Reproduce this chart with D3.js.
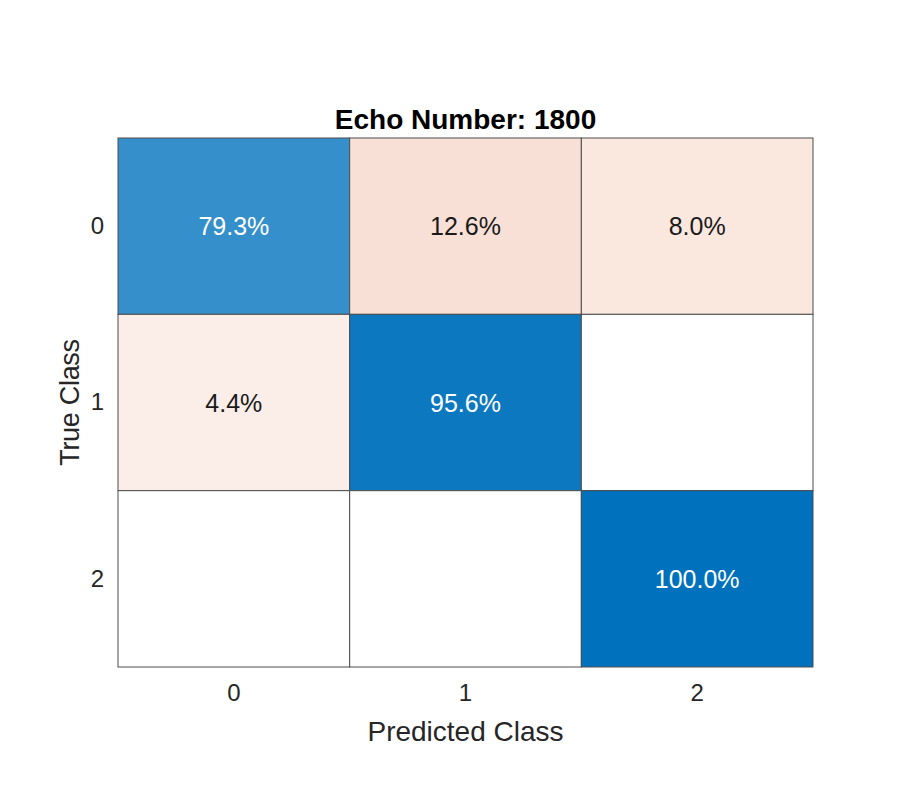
<!DOCTYPE html>
<html><head><meta charset="utf-8">
<script src="https://cdn.jsdelivr.net/npm/d3@7"></script>
<style>body{margin:0;background:#fff}</style>
</head><body>
<svg id="c" width="900" height="800"></svg>
<script>
const trueClasses = ["0","1","2"];
const predClasses = ["0","1","2"];
// row-normalized percentages (rows: true class, cols: predicted class); null = empty cell
const row0 = [79.3, 12.6, 8.0];
const row1 = [4.4, 95.6, null];
const row2 = [null, null, 100.0];
const rows = [row0, row1, row2];
const title = "Echo Number: 1800";

const svg = d3.select("#c");
const font = "'Liberation Sans', Arial, sans-serif";
const L = 118, R = 813, T = 138, B = 667;
const x = d3.scaleBand().domain(predClasses).range([L, R]);
const y = d3.scaleBand().domain(trueClasses).range([T, B]);
const diagColor = v => d3.interpolateRgb("#ffffff", "#0072bd")(v / 100);
const offColor = v => d3.interpolateRgb("#ffffff", "#d95319")(0.5 * Math.sqrt(v / 100));

const cells = [];
rows.forEach((r, i) => r.forEach((v, j) => cells.push({t: trueClasses[i], p: predClasses[j], v, diag: i === j})));

svg.selectAll("rect.cell").data(cells).enter().append("rect")
  .attr("x", d => x(d.p)).attr("y", d => y(d.t))
  .attr("width", x.bandwidth()).attr("height", y.bandwidth())
  .attr("fill", d => d.v == null ? "#ffffff" : (d.diag ? diagColor(d.v) : offColor(d.v)))
  .attr("stroke", "#4d4d4d").attr("stroke-width", 1);

svg.selectAll("text.val").data(cells.filter(d => d.v != null)).enter().append("text")
  .attr("x", d => x(d.p) + x.bandwidth() / 2).attr("y", d => y(d.t) + y.bandwidth() / 2 + 9)
  .attr("text-anchor", "middle")
  .attr("font-family", font).attr("font-size", 25)
  .attr("fill", d => d.diag && d.v > 50 ? "#ffffff" : "#1a1a1a")
  .text(d => d.v.toFixed(1) + "%");

// axes
const xAxis = svg.append("g").attr("transform", `translate(0,${B})`)
  .call(d3.axisBottom(x).tickSize(0).tickPadding(17));
const yAxis = svg.append("g").attr("transform", `translate(${L},0)`)
  .call(d3.axisLeft(y).tickSize(0).tickPadding(14));
[xAxis, yAxis].forEach(a => {
  a.select(".domain").remove();
  a.selectAll("text").attr("font-family", font).attr("font-size", 24).attr("fill", "#262626");
});

svg.append("text").attr("x", (L + R) / 2).attr("y", 129).attr("text-anchor", "middle")
  .attr("font-family", font).attr("font-size", 28).attr("font-weight", "bold").attr("fill", "#000")
  .text(title);
svg.append("text").attr("x", (L + R) / 2).attr("y", 741).attr("text-anchor", "middle")
  .attr("font-family", font).attr("font-size", 28).attr("fill", "#262626")
  .text("Predicted Class");
svg.append("text").attr("transform", `translate(79,${(T + B) / 2}) rotate(-90)`).attr("text-anchor", "middle")
  .attr("font-family", font).attr("font-size", 27).attr("fill", "#262626")
  .attr("letter-spacing", -0.3)
  .text("True Class");
</script>
</body></html>
